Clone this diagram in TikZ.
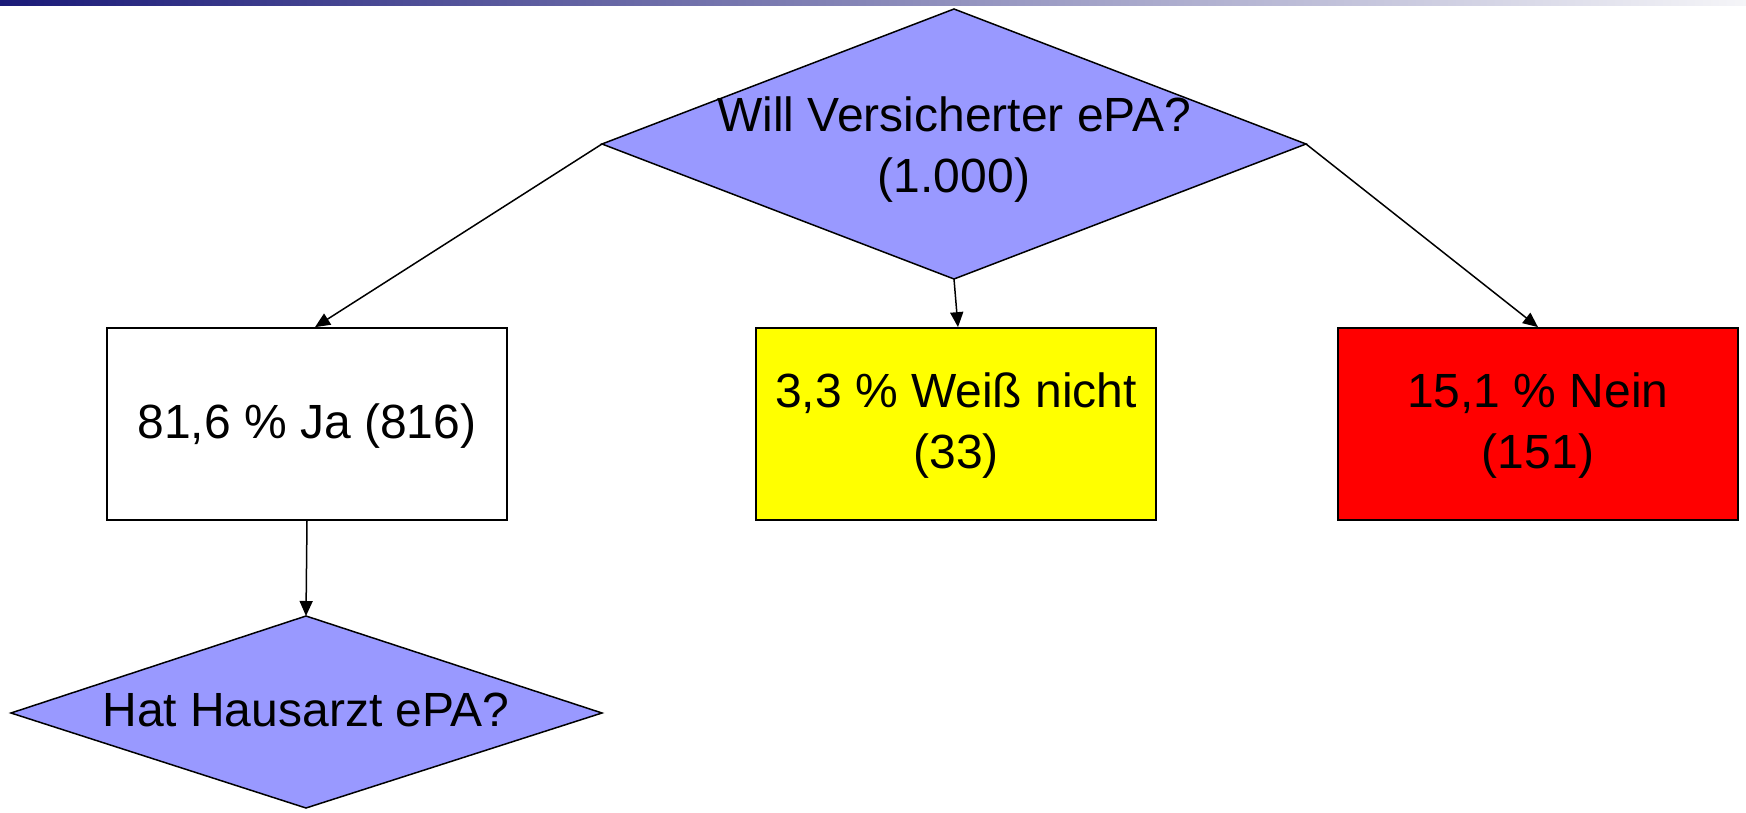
\documentclass[tikz,border=0pt]{standalone}
\usepackage{fontspec}
\setmainfont{Liberation Sans}
\usetikzlibrary{arrows.meta}
\definecolor{dia}{RGB}{153,153,255}
\definecolor{navy}{RGB}{26,26,120}
\definecolor{barend}{RGB}{245,245,248}
\definecolor{yel}{RGB}{255,255,0}
\definecolor{rd}{RGB}{255,0,0}
\begin{document}
\begin{tikzpicture}[x=1pt,y=-1pt,
  txt/.style={align=center,inner sep=0pt,font=\fontsize{48}{61}\selectfont},
  box/.style={txt,draw=black,line width=1.7pt,minimum width=400pt,minimum height=192pt,text depth=6pt},
  diam/.style={draw=black,line width=1.5pt,fill=dia,line join=miter},
  conn/.style={draw=black,line width=1.5pt,-{Triangle[length=15pt,width=13pt]}}]
\useasboundingbox (0,0) rectangle (1746,813);
\shade[left color=navy,right color=barend] (0,0) rectangle (1746,6);
% top diamond
\coordinate (d1n) at (954,9);
\coordinate (d1w) at (602,144);
\coordinate (d1e) at (1306,144);
\coordinate (d1s) at (954,279);
\path[diam] (d1n) -- (d1e) -- (d1s) -- (d1w) -- cycle;
\node[txt] (t1) at (954,150) {Will Versicherter ePA?\\(1.000)};
% boxes
\node[box,fill=white] (b1) at (307,424) {81,6 \% Ja (816)};
\node[box,fill=yel] (b2) at (956,424) {3,3 \% Weiß nicht \\(33)};
\node[box,fill=rd] (b3) at (1538,424) {15,1 \% Nein\\(151)};
% bottom diamond
\coordinate (d2n) at (306,616);
\coordinate (d2w) at (11,713);
\coordinate (d2e) at (602,713);
\coordinate (d2s) at (306,808);
\path[diam] (d2n) -- (d2e) -- (d2s) -- (d2w) -- cycle;
\node[txt] (t2) at (306,710) {Hat Hausarzt ePA?};
% connectors
\draw[conn] (d1w) -- ([xshift=8pt]b1.north);
\draw[conn] (d1s) -- ([xshift=2pt]b2.north);
\draw[conn] (d1e) -- (b3.north);
\draw[conn] (b1.south) -- (d2n);
\end{tikzpicture}
\end{document}
